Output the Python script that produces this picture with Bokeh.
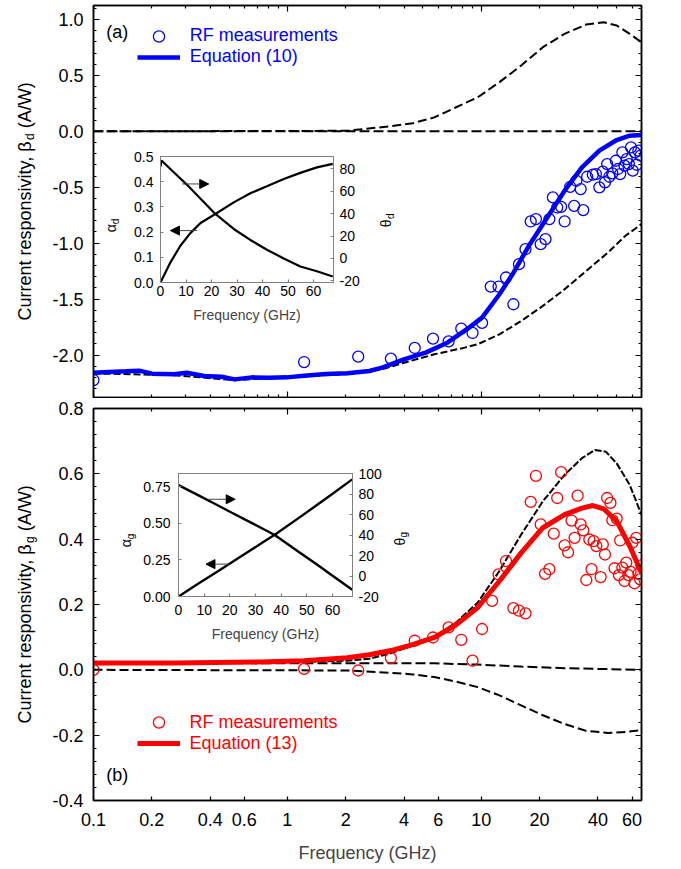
import math
from bokeh.plotting import figure
from bokeh.models import (Range1d, LinearAxis, LogAxis, FixedTicker, PrintfTickFormatter,
                          Label, Legend, LegendItem, Arrow, NormalHead, GridBox)
from bokeh.embed import file_html
from bokeh.resources import INLINE

FONT = "Liberation Sans"

# ---------------- panel (a) data ----------------
a_meas_f = [0.1, 1.22, 2.32, 3.42, 4.54, 5.64, 6.79, 7.89, 9.02, 10.1, 11.2, 12.29, 13.42, 14.65,
            15.66, 16.92, 18.0, 19.15, 20.27, 21.45, 22.47, 23.42, 24.66, 25.83, 26.92, 28.78,
            30.15, 30.94, 32.58, 33.6, 35.2, 37.64, 39.03, 40.67, 42.38, 43.49, 44.62, 45.79,
            47.47, 49.47, 50.77, 52.09, 53.45, 54.84, 56.28, 57.75, 59.25, 60.48, 62.06, 63.36,
            64.67, 66.37]
a_meas_v = [-2.224, -2.063, -2.015, -2.033, -1.937, -1.854, -1.878, -1.764, -1.803, -1.713,
            -1.388, -1.388, -1.307, -1.546, -1.188, -1.054, -0.806, -0.785, -1.009, -0.964,
            -0.785, -0.591, -0.681, -0.675, -0.806, -0.496, -0.666, -0.442, -0.516, -0.704,
            -0.406, -0.388, -0.382, -0.501, -0.361, -0.457, -0.293, -0.406, -0.376, -0.263,
            -0.337, -0.382, -0.188, -0.307, -0.248, -0.293, -0.143, -0.352, -0.188, -0.299,
            -0.173, -0.218]
a_eq_f = [0.1, 0.1198, 0.1472, 0.1719, 0.2006, 0.2597, 0.303, 0.3725, 0.4578, 0.5345, 0.6569,
          0.8074, 0.9922, 1.22, 1.578, 2.043, 2.644, 3.086, 3.994, 5.169, 6.689, 8.657, 10.1,
          12.42, 14.5, 17.82, 21.9, 26.92, 33.08, 40.67, 49.98, 58.34, 67.06]
a_eq_v = [-2.158, -2.152, -2.146, -2.140, -2.167, -2.173, -2.158, -2.188, -2.194, -2.218,
          -2.200, -2.203, -2.200, -2.185, -2.170, -2.164, -2.143, -2.113, -2.039, -1.979,
          -1.890, -1.755, -1.666, -1.457, -1.278, -1.009, -0.770, -0.531, -0.322, -0.173,
          -0.078, -0.039, -0.033]
a_up_f = [0.1, 1.22, 2.043, 3.421, 4.427, 5.73, 7.416, 9.596, 12.42, 16.07, 20.8, 26.92,
          34.83, 42.82, 49.98, 58.34, 67.06]
a_up_v = [0.0, 0.003, 0.006, 0.045, 0.072, 0.125, 0.215, 0.304, 0.44, 0.588, 0.752, 0.872,
          0.955, 0.976, 0.946, 0.872, 0.797]
a_lo_f = [0.1, 0.2597, 0.5345, 1.22, 2.043, 3.086, 3.994, 5.73, 8.221, 9.596, 12.42, 16.07,
          20.8, 26.92, 34.83, 45.08, 55.42, 67.06]
a_lo_v = [-2.165, -2.18, -2.225, -2.19, -2.17, -2.128, -2.069, -1.994, -1.934, -1.904,
          -1.815, -1.696, -1.561, -1.412, -1.248, -1.084, -0.934, -0.830]
a_zero_f = [0.1, 67.1]
a_zero_v = [0.0, 0.0]

# inset (a)
ia_alpha_f = [0, 3.9, 7.8, 11.7, 15.7, 21.5, 28.7, 35.2, 41.7, 48.3, 54.8, 61.3, 67.5]
ia_alpha = [0, 0.080, 0.146, 0.196, 0.236, 0.272, 0.318, 0.354, 0.382, 0.411, 0.435, 0.457, 0.471]
ia_theta_f = [0, 0.4, 5.2, 10.4, 15.7, 21.5, 28.7, 35.2, 41.7, 48.3, 54.8, 61.3, 67.5]
ia_theta = [82.3, 87.4, 77.0, 65.7, 53.2, 39.7, 26.3, 16.5, 7.8, 0.0, -7.2, -11.5, -16.1]

# ---------------- panel (b) data ----------------
b_meas_f = [0.1, 1.22, 2.32, 3.42, 4.54, 5.64, 6.79, 7.89, 9.02, 10.1, 11.38, 12.29, 13.42,
            14.65, 15.66, 16.92, 18.0, 19.15, 20.27, 21.34, 22.47, 23.66, 24.66, 25.83, 26.92,
            28.05, 29.23, 30.31, 31.42, 32.58, 33.6, 34.83, 36.12, 37.06, 38.04, 39.23, 41.3,
            42.38, 43.49, 44.62, 46.38, 47.47, 48.71, 49.98, 51.29, 52.09, 53.45, 54.84, 55.99,
            57.45, 58.97, 60.2, 61.75, 63.05, 64.67, 66.03, 67.0]
b_meas_v = [0.0, 0.003, -0.002, 0.036, 0.089, 0.099, 0.130, 0.092, 0.028, 0.125, 0.211, 0.292,
            0.333, 0.189, 0.181, 0.173, 0.514, 0.594, 0.445, 0.294, 0.308, 0.417, 0.526, 0.605,
            0.381, 0.360, 0.457, 0.404, 0.533, 0.445, 0.427, 0.275, 0.399, 0.308, 0.394, 0.379,
            0.284, 0.384, 0.353, 0.526, 0.511, 0.458, 0.311, 0.463, 0.290, 0.396, 0.313, 0.272,
            0.328, 0.290, 0.300, 0.389, 0.265, 0.404, 0.294, 0.277, 0.320]
b_eq_f = [0.1, 0.2597, 0.7283, 1.22, 2.043, 2.644, 3.421, 4.427, 5.73, 7.416, 9.596, 12.42,
          16.07, 20.8, 26.92, 33.08, 37.64, 42.82, 49.98, 58.34, 67.06]
b_eq_v = [0.021, 0.021, 0.024, 0.028, 0.037, 0.046, 0.059, 0.077, 0.099, 0.138, 0.191, 0.272,
          0.358, 0.435, 0.475, 0.495, 0.503, 0.493, 0.455, 0.379, 0.297]
b_up_f = [0.1, 1.22, 2.043, 2.644, 3.421, 4.427, 5.73, 7.416, 9.596, 12.42, 16.07, 20.8, 26.92,
          33.08, 38.62, 43.93, 49.98, 58.34, 67.06]
b_up_v = [0.021, 0.024, 0.028, 0.034, 0.051, 0.074, 0.100, 0.145, 0.206, 0.303, 0.414, 0.516,
          0.597, 0.648, 0.673, 0.668, 0.632, 0.566, 0.475]
b_mid_f = [0.1, 5.73, 9.596, 16.07, 26.92, 67.06]
b_mid_v = [0.021, 0.020, 0.016, 0.010, 0.005, 0.0]
b_lo_f = [0.1, 2.043, 3.421, 4.427, 5.73, 7.416, 9.596, 12.42, 16.07, 20.8, 26.92, 34.83,
          45.08, 55.42, 67.06]
b_lo_v = [0.0, -0.002, -0.009, -0.014, -0.022, -0.036, -0.053, -0.078, -0.109, -0.139, -0.166,
          -0.187, -0.193, -0.19, -0.185]

# inset (b)
ib_f = [0, 7.8, 14.3, 20.8, 27.3, 33.8, 37.5, 46.9, 53.4, 59.9, 67.7]
ib_alpha = [0, 0.088, 0.161, 0.234, 0.307, 0.380, 0.421, 0.537, 0.618, 0.700, 0.800]
ib_theta = [88.7, 78.6, 70.2, 61.7, 53.3, 44.9, 40.0, 23.5, 12.1, 0.4, -13.5]

# ---------------- ticks / labels ----------------
x_labeled = [0.1, 0.2, 0.4, 0.6, 1, 2, 4, 6, 10, 20, 40, 60]
x_decades = [0.1, 1, 10]
x_minor_all = [0.2, 0.3, 0.4, 0.5, 0.6, 0.7, 0.8, 0.9, 2, 3, 4, 5, 6, 7, 8, 9, 20, 30, 40, 50, 60]
x_minor_b = [0.2, 0.4, 0.6, 2, 4, 6, 20, 40, 60]
ya_major = [-2.0, -1.5, -1.0, -0.5, 0.0, 0.5, 1.0]
ya_minor = [round(-2.3 + 0.1 * i, 2) for i in range(35)]
yb_major = [-0.4, -0.2, 0.0, 0.2, 0.4, 0.6, 0.8]
yb_minor = [round(-0.4 + 0.04 * i, 2) for i in range(31)]

W = 681
H1, H2 = 398, 471


def style_axis(ax, major, minor, tin, tmin, fmt=None, fs="18px", standoff=10,
               color="black", lw=1.5):
    ax.ticker = FixedTicker(ticks=major, minor_ticks=minor)
    ax.major_tick_in = tin
    ax.major_tick_out = 0
    ax.minor_tick_in = tmin
    ax.minor_tick_out = 0
    ax.axis_line_color = color
    ax.axis_line_width = lw
    ax.major_tick_line_color = color
    ax.minor_tick_line_color = color
    ax.major_tick_line_width = 1.2
    ax.minor_tick_line_width = 1.2
    if fmt is None:
        ax.major_label_text_font_size = "1px"
        ax.major_label_text_color = None
        ax.major_label_standoff = 0
    else:
        ax.formatter = PrintfTickFormatter(format=fmt)
        ax.major_label_text_font = FONT
        ax.major_label_text_font_size = fs
        ax.major_label_text_color = "black"
        ax.major_label_standoff = standoff


def make_main(height, yr, mt, mb):
    p = figure(width=W, height=height, x_axis_type="log",
               x_range=Range1d(0.1, 67.1), y_range=Range1d(*yr),
               output_backend="svg", toolbar_location=None,
               min_border_left=93, min_border_right=40, min_border_top=mt,
               min_border_bottom=mb, frame_align=False)
    p.grid.visible = False
    p.outline_line_color = "black"
    p.outline_line_width = 1.5
    p.border_fill_color = "white"
    p.background_fill_color = "white"
    return p


def make_overlay(height):
    o = figure(width=W, height=height, x_range=Range1d(0, W), y_range=Range1d(0, height),
               output_backend="svg", toolbar_location=None, x_axis_location=None,
               y_axis_location=None, min_border_left=0, min_border_right=0,
               min_border_top=0, min_border_bottom=0, frame_align=False)
    o.grid.visible = False
    o.outline_line_color = None
    o.border_fill_color = None
    o.background_fill_color = None
    return o


def rot_label(o, x, y, text, fs):
    o.add_layout(Label(x=x, y=y, x_units="screen", y_units="screen", text=text,
                       angle=math.pi / 2, text_font=FONT, text_font_size=fs,
                       text_align="left", text_baseline="middle", text_color="black"))


def ylabel(o, start, sub):
    x0 = 24.5
    rot_label(o, x0, start, "Current responsivity, \u03b2", "18px")
    rot_label(o, x0 + 4.5, start + 180.6, sub, "12px")
    rot_label(o, x0, start + 192.3, "(A/W)", "18px")


def sub_label(o, xc, start, main, sub):
    rot_label(o, xc - 1, start, main, "14px")
    rot_label(o, xc + 3.3, start + 8.1, sub, "10px")


def legends(p, circ, line, color, vx, vy_c, vy_l, name):
    for r, lab, gh, vy in ((circ, "RF measurements", 28, vy_c), (line, name, 20, vy_l)):
        lg = Legend(items=[LegendItem(label=lab, renderers=[r])], location=(vx, vy),
                    glyph_width=43, glyph_height=gh, label_height=20, label_standoff=10,
                    padding=0, margin=0, spacing=0, border_line_color=None,
                    background_fill_alpha=0, label_text_font=FONT,
                    label_text_font_size="18px", label_text_color=color)
        p.add_layout(lg)


def make_inset(height, yr, yr2, ml, mr, mt, mb):
    q = figure(width=W, height=height, x_range=Range1d(0, 67.8), y_range=Range1d(*yr),
               output_backend="svg", toolbar_location=None,
               min_border_left=ml, min_border_right=mr, min_border_top=mt,
               min_border_bottom=mb, frame_align=False)
    q.grid.visible = False
    q.border_fill_color = None
    q.background_fill_color = None
    q.outline_line_color = "#808080"
    q.extra_y_ranges = {"theta": Range1d(*yr2)}
    return q


def inset_axes(q, xt, yt, yfmt, ystand, tt, xstand, lstand):
    style_axis(q.xaxis[0], xt, [], 3, 0, fmt="%d", fs="14px", standoff=xstand,
               color="#808080", lw=1)
    style_axis(q.yaxis[0], yt, [], 3, 0, fmt=yfmt, fs="14px", standoff=ystand,
               color="#808080", lw=1)
    ax = LinearAxis(y_range_name="theta")
    style_axis(ax, tt, [], 3, 0, fmt="%d", fs="14px", standoff=6, color="#808080", lw=1)
    q.add_layout(ax, "right")
    q.xaxis[0].axis_label = "Frequency (GHz)"
    q.xaxis[0].axis_label_text_font = FONT
    q.xaxis[0].axis_label_text_font_size = "14px"
    q.xaxis[0].axis_label_text_font_style = "normal"
    q.xaxis[0].axis_label_standoff = lstand


def arrow(q, x0, y0, x1, y1):
    q.add_layout(Arrow(end=NormalHead(size=9, fill_color="black", line_color="black"),
                       x_start=x0, y_start=y0, x_end=x1, y_end=y1,
                       line_color="#444444", line_width=1))


# ======================= panel (a) =======================
p1 = make_main(H1, (-2.38, 1.125), 5, 1)
style_axis(p1.xaxis[0], x_decades, x_minor_all, 6, 3)
style_axis(p1.yaxis[0], ya_major, ya_minor, 6, 3, fmt="%.1f", standoff=10)
ax_top1 = LogAxis()
style_axis(ax_top1, x_decades, x_minor_all, 6, 3)
p1.add_layout(ax_top1, "above")
ax_r1 = LinearAxis()
style_axis(ax_r1, ya_major, ya_minor, 6, 3)
p1.add_layout(ax_r1, "right")

p1.line(a_zero_f, a_zero_v, line_color="black", line_width=2, line_dash="10 4")
p1.line(a_up_f, a_up_v, line_color="black", line_width=2, line_dash="9 4")
p1.line(a_lo_f, a_lo_v, line_color="black", line_width=2, line_dash="7 3")
eq_a = p1.line(a_eq_f, a_eq_v, line_color="#0000ff", line_width=4.5)
ms_a = p1.scatter(a_meas_f, a_meas_v, marker="circle", size=11, line_color="#0000ff",
                  fill_color=None, line_width=1.3)
legends(p1, ms_a, eq_a, "#0000ff", 43.7, 347.3, 329.8, "Equation (10)")
p1.add_layout(Label(x=12.7, y=365.3, x_units="screen", y_units="screen", text="(a)",
                    text_font=FONT, text_font_size="18px", text_baseline="middle",
                    text_color="black"))

i1 = make_inset(H1, (0, 0.5), (-21.5, 91), 160, 348, 156, 116)
inset_axes(i1, [0, 10, 20, 30, 40, 50, 60], [0, 0.1, 0.2, 0.3, 0.4, 0.5], "%.1f", 7,
           [-20, 0, 20, 40, 60, 80], 3, 8)
i1.line(ia_alpha_f, ia_alpha, line_color="black", line_width=2.2)
i1.line(ia_theta_f, ia_theta, line_color="black", line_width=2.2, y_range_name="theta")
arrow(i1, 8.5, 0.391, 18.9, 0.391)
arrow(i1, 14.4, 0.206, 3.9, 0.206)

o1 = make_overlay(H1)
ylabel(o1, 78, "d")
sub_label(o1, 111.7, 166.2, "\u03b1", "d")
sub_label(o1, 386.7, 171.3, "\u03b8", "d")

# ======================= panel (b) =======================
p2 = make_main(H2, (-0.4, 0.8), 10, 69)
style_axis(p2.xaxis[0], x_labeled, [], 4, 0, fmt="%g", standoff=12)
p2.xaxis[0].axis_label = "Frequency (GHz)"
p2.xaxis[0].axis_label_text_font = FONT
p2.xaxis[0].axis_label_text_font_size = "18px"
p2.xaxis[0].axis_label_text_font_style = "normal"
p2.xaxis[0].axis_label_standoff = 14
style_axis(p2.yaxis[0], yb_major, yb_minor, 6, 3, fmt="%.1f", standoff=10)
ax_top2 = LogAxis()
style_axis(ax_top2, [1, 10], x_minor_b, 6, 3)
p2.add_layout(ax_top2, "above")
ax_r2 = LinearAxis()
style_axis(ax_r2, yb_major, yb_minor, 6, 3)
p2.add_layout(ax_r2, "right")

p2.line(b_mid_f, b_mid_v, line_color="black", line_width=2, line_dash="10 4")
p2.line(b_lo_f, b_lo_v, line_color="black", line_width=2, line_dash="9 4")
p2.line(b_up_f, b_up_v, line_color="black", line_width=2, line_dash="7 2")
eq_b = p2.line(b_eq_f, b_eq_v, line_color="#ff0000", line_width=5)
ms_b = p2.scatter(b_meas_f, b_meas_v, marker="circle", size=11, line_color="#ff0000",
                  fill_color=None, line_width=1.3)
legends(p2, ms_b, eq_b, "#ff0000", 43.5, 63.7, 46.2, "Equation (13)")
p2.add_layout(Label(x=12.7, y=26, x_units="screen", y_units="screen", text="(b)",
                    text_font=FONT, text_font_size="18px", text_baseline="middle",
                    text_color="black"))

i2 = make_inset(H2, (0, 0.84), (-20, 100), 178, 329, 75, 273)
inset_axes(i2, [0, 10, 20, 30, 40, 50, 60], [0, 0.25, 0.5, 0.75], "%.2f", 8,
           [-20, 0, 20, 40, 60, 80, 100], 8, 8)
i2.line(ib_f, ib_alpha, line_color="black", line_width=2.4)
i2.line(ib_f, ib_theta, line_color="black", line_width=2.4, y_range_name="theta")
arrow(i2, 11.7, 0.664, 22.1, 0.664)
arrow(i2, 20.2, 0.221, 10.7, 0.221)

o2 = make_overlay(H2)
ylabel(o2, 146, "g")
sub_label(o2, 126.7, 322.2, "\u03b1", "g")
sub_label(o2, 400.0, 324.0, "\u03b8", "g")

layout = GridBox(children=[(p1, 0, 0), (i1, 0, 0), (o1, 0, 0),
                           (p2, 1, 0), (i2, 1, 0), (o2, 1, 0)], spacing=0)

open("out.html", "w").write(file_html(layout, INLINE))
